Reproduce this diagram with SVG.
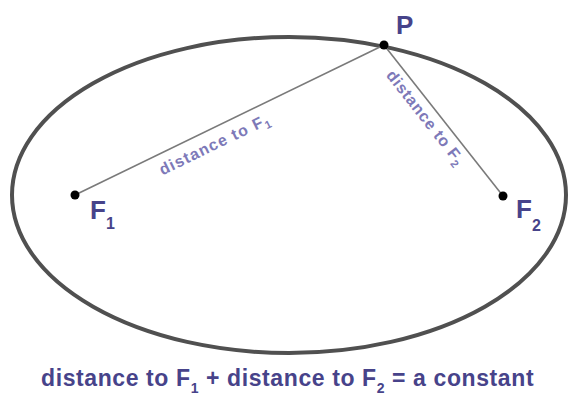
<svg xmlns="http://www.w3.org/2000/svg" width="571" height="396" viewBox="0 0 571 396">
  <style>
    .orbit { fill: none; stroke: #505050; stroke-width: 4; }
    .dot { fill: #000000; }
    .link { stroke: #7a7a7a; stroke-width: 1.6; fill: none; }
    .big { font-family: "Liberation Sans", Arial, sans-serif; font-weight: bold; font-size: 26px; fill: #47438a; }
    .sub { font-size: 16px; }
    .lbl { font-family: "Liberation Sans", Arial, sans-serif; font-weight: bold; font-size: 16px; fill: #7d79b8; }
    .lblsub { font-size: 11px; }
    .caption { font-family: "Liberation Sans", Arial, sans-serif; font-weight: bold; font-size: 23px; fill: #47438a; letter-spacing: 0.6px; }
    .capsub { font-size: 14px; }
  </style>
  <rect width="571" height="396" fill="#ffffff"/>
  <g id="ellipse">
    <ellipse class="orbit" cx="289" cy="195" rx="277" ry="158"/>
  </g>
  <g id="connectors">
    <line class="link" x1="75" y1="195" x2="384" y2="45"/>
    <line class="link" x1="384" y1="45" x2="503" y2="196"/>
    <text class="lbl" transform="translate(162.5,175.5) rotate(-25.9)" letter-spacing="1.2">distance to F<tspan class="lblsub" dy="4">1</tspan></text>
    <text class="lbl" transform="translate(385.5,75.5) rotate(51.8)" letter-spacing="0.8">distance to F<tspan class="lblsub" dy="4">2</tspan></text>
  </g>
  <g id="P">
    <circle class="dot" cx="384" cy="45" r="4.5"/>
    <text class="big" x="396" y="34">P</text>
  </g>
  <g id="F1">
    <circle class="dot" cx="75" cy="195" r="4.5"/>
    <text class="big" x="90" y="219">F<tspan class="sub" dy="10">1</tspan></text>
  </g>
  <g id="F2">
    <circle class="dot" cx="503" cy="196" r="4.5"/>
    <text class="big" x="516" y="218">F<tspan class="sub" dy="13">2</tspan></text>
  </g>
  <g id="caption">
    <text class="caption" x="41" y="386">distance to F<tspan class="capsub" dy="7">1</tspan><tspan dy="-7"> + distance to F</tspan><tspan class="capsub" dy="7">2</tspan><tspan dy="-7"> = a constant</tspan></text>
  </g>
</svg>
